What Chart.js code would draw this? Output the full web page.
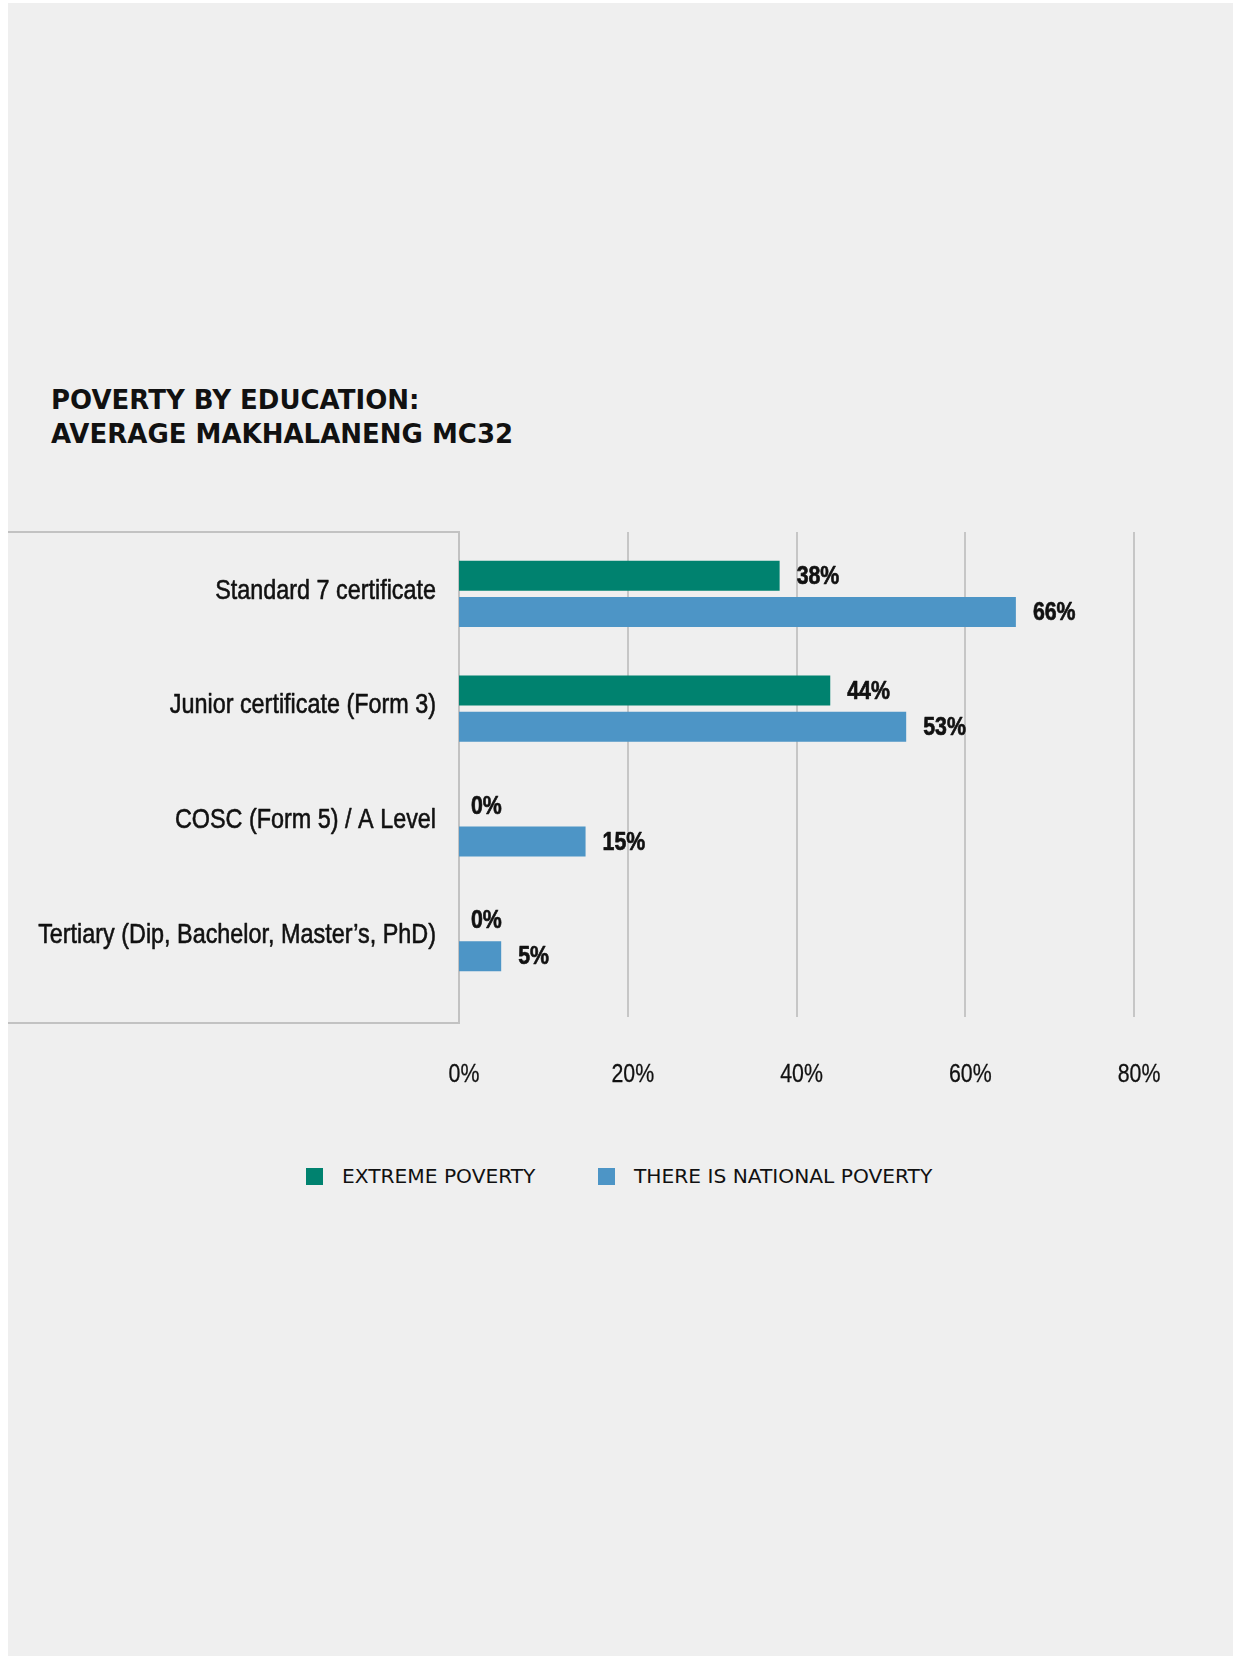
<!DOCTYPE html>
<html>
<head>
<meta charset="utf-8">
<title>Poverty by education</title>
<script src="https://cdn.jsdelivr.net/npm/chart.js@4.4.1/dist/chart.umd.min.js"></script>
<style>
  html, body { margin: 0; padding: 0; background: #ffffff; }
  body { width: 1233px; height: 1656px; position: relative; overflow: hidden; }
  #panel { position: absolute; left: 8px; top: 3px; right: 0; bottom: 0; background: #efefef; }
  #title {
    position: absolute; left: 51px; top: 384px; margin: 0;
    font-family: 'DejaVu Sans', sans-serif; font-weight: bold; font-size: 26px;
    line-height: 33.5px; color: #111111; letter-spacing: 0;
  }
  #wrap { position: absolute; left: 0; top: 500px; width: 1233px; height: 620px; }
  #legend { position: absolute; left: 0; top: 1168px; width: 1233px; height: 17px; }
  .item { position: absolute; top: 0; height: 17px; display: flex; align-items: center; white-space: nowrap; }
  .swatch { width: 17px; height: 17px; flex: none; }
  .item span {
    margin-left: 19px; font-family: 'DejaVu Sans', sans-serif; font-size: 20.2px;
    line-height: 17px; color: #111111;
  }
</style>
</head>
<body>
<div id="panel"></div>
<h1 id="title">POVERTY BY EDUCATION:<br>AVERAGE MAKHALANENG MC32</h1>
<div id="wrap"><canvas id="chart" width="1233" height="620"></canvas></div>
<div id="legend"></div>
<script>
// Education levels (top to bottom)
const categories = [
  'Standard 7 certificate',
  'Junior certificate (Form 3)',
  'COSC (Form 5) / A Level',
  'Tertiary (Dip, Bachelor, Master\u2019s, PhD)'
];
// Share of people in each poverty group, in percent
const seriesNames = ['EXTREME POVERTY', 'THERE IS NATIONAL POVERTY'];
const extremePoverty = [38, 44, 0, 0];
const nationalPoverty = [66, 53, 15, 5];
// Value axis ticks, in percent
const xTicks = [0, 20, 40, 60, 80];

const seriesColors = ['#00826f', '#4d95c6'];
const FAMILY = "'Liberation Sans', Arial, sans-serif";
const SQUEEZE = 0.82; // horizontal compression for the condensed label face

// Draw a horizontally condensed text run; `weight` thickens the strokes a little
function narrowText(ctx, text, x, y, align, font, weight) {
  ctx.save();
  ctx.font = font;
  ctx.fillStyle = '#111111';
  ctx.strokeStyle = '#111111';
  ctx.textBaseline = 'middle';
  ctx.textAlign = align;
  ctx.translate(x, y);
  ctx.scale(SQUEEZE, 1);
  ctx.fillText(text, 0, 0);
  if (weight) {
    ctx.lineWidth = weight;
    ctx.lineJoin = 'round';
    ctx.strokeText(text, 0, 0);
  }
  ctx.restore();
}

// Vertical gridlines (slightly longer than the plot area) and the frame round the categories
const gridPlugin = {
  id: 'gridLines',
  beforeDatasetsDraw(chart) {
    const { ctx, chartArea, scales } = chart;
    ctx.save();
    ctx.strokeStyle = '#c6c6c6';
    ctx.lineWidth = 2;
    scales.x.ticks.forEach(t => {
      const x = Math.round(scales.x.getPixelForValue(t.value));
      if (x <= chartArea.left + 1) return;
      ctx.beginPath();
      ctx.moveTo(x, chartArea.top - 4.5);
      ctx.lineTo(x, chartArea.bottom + 21.5);
      ctx.stroke();
    });
    ctx.strokeStyle = '#c2c2c2';
    const left = 8, top = chartArea.top - 4.5, bottom = chartArea.bottom + 27.5;
    const ax = Math.round(scales.x.getPixelForValue(0));
    ctx.beginPath();
    ctx.moveTo(left, top); ctx.lineTo(ax, top);
    ctx.lineTo(ax, bottom); ctx.lineTo(left, bottom);
    ctx.stroke();
    ctx.restore();
  }
};

// Axis labels in the condensed face, placed from the scales
const axisLabels = {
  id: 'axisLabels',
  afterDraw(chart) {
    const { ctx, chartArea, scales } = chart;
    const yS = scales.y, xS = scales.x;
    yS.ticks.forEach(t => {
      narrowText(ctx, yS.getLabelForValue(t.value), chartArea.left - 23,
        yS.getPixelForValue(t.value) - 3, 'right', '28.5px ' + FAMILY, 0.6);
    });
    xS.ticks.forEach(t => {
      narrowText(ctx, t.value + '%', xS.getPixelForValue(t.value) + 5,
        chartArea.bottom + 79.5, 'center', '26px ' + FAMILY, 0.3);
    });
  }
};

// Value labels to the right of each bar
const valueLabels = {
  id: 'valueLabels',
  afterDatasetsDraw(chart) {
    const { ctx } = chart;
    chart.data.datasets.forEach((ds, di) => {
      chart.getDatasetMeta(di).data.forEach((bar, i) => {
        const v = ds.data[i];
        narrowText(ctx, v + '%', bar.x + (v === 0 ? 12 : 17), bar.y + 1, 'left', 'bold 26px ' + FAMILY, 0.7);
      });
    });
  }
};

const chart = new Chart(document.getElementById('chart'), {
  type: 'bar',
  data: {
    labels: categories,
    datasets: [
      { label: seriesNames[0], data: extremePoverty, backgroundColor: seriesColors[0] },
      { label: seriesNames[1], data: nationalPoverty, backgroundColor: seriesColors[1] }
    ]
  },
  options: {
    indexAxis: 'y',
    responsive: false,
    animation: false,
    devicePixelRatio: 1,
    layout: { padding: { top: 36.5, left: 0, right: 99, bottom: 24.5 } },
    datasets: { bar: { categoryPercentage: 0.6275, barPercentage: 30 / 36, borderWidth: 0 } },
    plugins: { legend: { display: false }, tooltip: { enabled: false } },
    scales: {
      x: {
        min: 0, max: 80,
        grid: { display: false, drawTicks: false },
        border: { display: false },
        afterBuildTicks: s => { s.ticks = xTicks.map(v => ({ value: v })); },
        afterFit: s => { s.height = 100; },
        ticks: { display: false }
      },
      y: {
        grid: { display: false, drawTicks: false },
        border: { display: false },
        afterFit: s => { s.width = 459; },
        ticks: { display: false }
      }
    }
  },
  plugins: [gridPlugin, valueLabels, axisLabels]
});

// Legend built from the chart's datasets
const legend = document.getElementById('legend');
const legendX = [306, 598];
chart.data.datasets.forEach((ds, i) => {
  const item = document.createElement('div');
  item.className = 'item';
  item.style.left = legendX[i] + 'px';
  const sw = document.createElement('div');
  sw.className = 'swatch';
  sw.style.background = ds.backgroundColor;
  const txt = document.createElement('span');
  txt.textContent = ds.label;
  item.appendChild(sw);
  item.appendChild(txt);
  legend.appendChild(item);
});
</script>
</body>
</html>
